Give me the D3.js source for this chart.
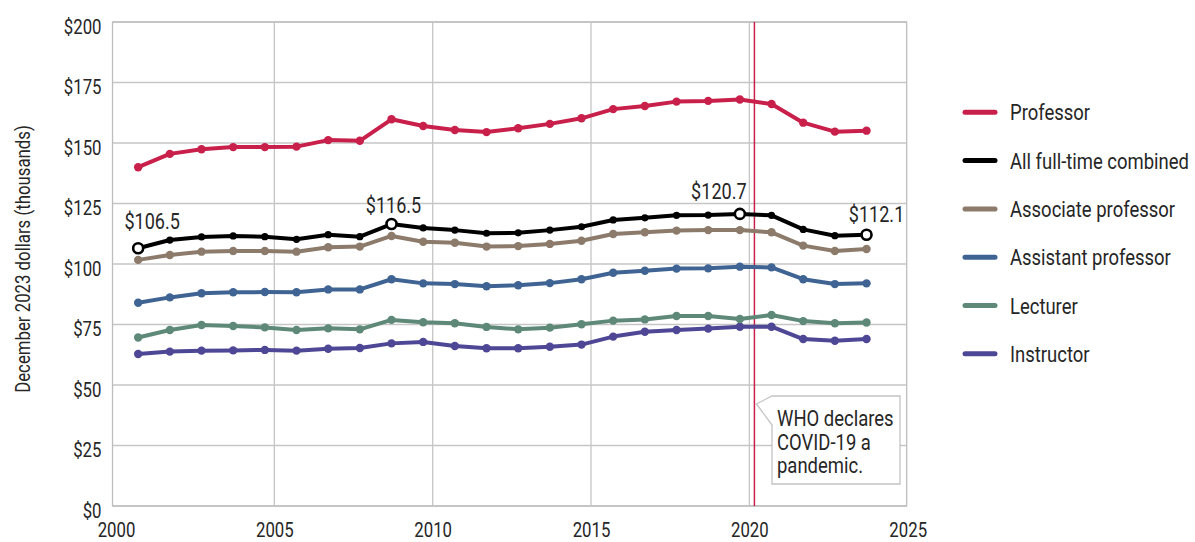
<!DOCTYPE html>
<html>
<head>
<meta charset="utf-8">
<script src="https://cdn.jsdelivr.net/npm/d3@7"></script>
<style>
  html, body { margin: 0; padding: 0; background: #fff; }
  svg { display: block; }
  text { font-family: "Roboto", "Liberation Sans", sans-serif; fill: #262626; }
</style>
</head>
<body>
<svg id="chart" width="1195" height="542"></svg>
<script>
// ---- data ----
const years = [2000,2001,2002,2003,2004,2005,2006,2007,2008,2009,2010,2011,2012,2013,2014,2015,2016,2017,2018,2019,2020,2021,2022,2023];
const professor = [140.0,145.5,147.4,148.3,148.3,148.5,151.2,150.9,159.8,157.0,155.4,154.5,156.1,157.9,160.2,164.0,165.3,167.1,167.4,168.0,166.1,158.4,154.7,155.1];
const combined  = [106.5,109.9,111.2,111.6,111.3,110.2,112.1,111.3,116.5,114.9,114.0,112.7,112.9,114.0,115.4,118.2,119.1,120.1,120.2,120.7,120.1,114.3,111.7,112.1];
const associate = [101.7,103.7,105.1,105.4,105.4,105.1,106.9,107.2,111.6,109.2,108.8,107.2,107.4,108.3,109.6,112.4,113.1,113.8,114.0,114.0,113.1,107.6,105.4,106.2];
const assistant = [84.0,86.2,87.9,88.3,88.4,88.3,89.5,89.5,93.7,92.0,91.7,90.8,91.2,92.1,93.7,96.4,97.2,98.1,98.2,98.9,98.6,93.7,91.7,92.0];
const lecturer  = [69.6,72.7,74.8,74.4,73.8,72.7,73.4,73.0,76.9,75.9,75.5,74.0,73.0,73.7,75.1,76.6,77.1,78.5,78.5,77.3,78.9,76.4,75.5,75.8];
const instructor= [62.8,63.8,64.2,64.3,64.5,64.2,65.0,65.3,67.2,67.8,66.1,65.2,65.2,65.8,66.7,70.0,72.0,72.7,73.3,74.1,74.1,69.0,68.3,69.0];
const seriesNames = ["Professor","All full-time combined","Associate professor","Assistant professor","Lecturer","Instructor"];
const seriesColors = ["#C8204B","#000000","#8C7B6B","#3F6493","#5E8978","#4E4795"];
const yTicks = [0,25,50,75,100,125,150,175,200];
const xTicks = [2000,2005,2010,2015,2020,2025];
const labeledIdx = [0,8,19,23];
const covidDate = 2020.16;
const covidText = ["WHO declares","COVID-19 a","pandemic."];

// ---- layout ----
const FS = 20, SX = 0.84;
const svg = d3.select("#chart");
const x = d3.scaleLinear().domain([2000, 2025]).range([116, 907.7]);
const y = d3.scaleLinear().domain([0, 200]).range([506, 22]);
const frame = {x0: 112.5, x1: 906.7, y0: 22, y1: 506};
const xOff = 0.7;

function ctext(parent, tx, ty, str, anchor, fs) {
  return parent.append("text")
    .attr("transform", `translate(${tx},${ty}) scale(${SX},1)`)
    .attr("text-anchor", anchor || "start")
    .attr("font-size", fs || FS).text(str);
}

// gridlines
const g = svg.append("g");
g.selectAll("line.h").data(yTicks).join("line")
  .attr("x1", frame.x0).attr("x2", frame.x1)
  .attr("y1", d => y(d)).attr("y2", d => y(d))
  .attr("stroke", "#c6c6c6").attr("stroke-width", 1.3);
g.selectAll("line.v").data(xTicks.slice(1, -1)).join("line")
  .attr("x1", d => x(d)).attr("x2", d => x(d))
  .attr("y1", frame.y0).attr("y2", frame.y1)
  .attr("stroke", "#c6c6c6").attr("stroke-width", 1.3);
g.append("rect").attr("x", frame.x0).attr("y", frame.y0)
  .attr("width", frame.x1 - frame.x0).attr("height", frame.y1 - frame.y0)
  .attr("fill", "none").attr("stroke", "#bdbdbd").attr("stroke-width", 1.3);

// axis labels via d3 axes
const yAxis = svg.append("g").attr("transform", `translate(${frame.x0 - 11},0)`)
  .call(d3.axisLeft(y).tickValues(yTicks).tickFormat(d => "$" + d).tickSize(0).tickPadding(0));
yAxis.select(".domain").remove();
yAxis.selectAll("text").attr("x", 0).attr("dy", null).attr("y", 11)
  .attr("transform", `scale(${SX},1)`)
  .attr("font-size", FS).style("font-family", '"Roboto", sans-serif').attr("fill", "#262626");

const xAxis = svg.append("g").attr("transform", `translate(0,${frame.y1})`)
  .call(d3.axisBottom(x).tickValues(xTicks).tickFormat(d3.format("d")).tickSize(0).tickPadding(0));
xAxis.select(".domain").remove();
xAxis.selectAll("text").attr("y", 31).attr("dy", null)
  .attr("transform", `scale(${SX},1)`)
  .attr("font-size", FS).style("font-family", '"Roboto", sans-serif').attr("fill", "#262626");

svg.append("text").attr("transform", `translate(30,259) rotate(-90) scale(${SX},1)`)
  .attr("text-anchor", "middle").attr("font-size", FS).text("December 2023 dollars (thousands)");

// covid line
svg.append("line").attr("x1", x(covidDate)).attr("x2", x(covidDate))
  .attr("y1", frame.y0).attr("y2", frame.y1)
  .attr("stroke", "#C8204B").attr("stroke-width", 1.5);

// series
const allSeries = [professor, combined, associate, assistant, lecturer, instructor];
const line = d3.line().x((d, i) => x(years[i] + xOff)).y(d => y(d));
const drawOrder = [5, 4, 3, 2, 0, 1];
drawOrder.forEach(si => {
  const vals = allSeries[si];
  const sg = svg.append("g");
  sg.append("path").datum(vals).attr("d", line)
    .attr("fill", "none").attr("stroke", seriesColors[si]).attr("stroke-width", 4)
    .attr("stroke-linejoin", "round").attr("stroke-linecap", "round");
  sg.selectAll("circle").data(vals).join("circle")
    .attr("cx", (d, i) => x(years[i] + xOff)).attr("cy", d => y(d))
    .attr("r", si === 1 ? 3.6 : 4.2).attr("fill", seriesColors[si]);
});

// labeled points on combined
const lblOffsets = {0: [14, -19], 8: [2, -11], 19: [-21, -15], 23: [10, -13]};
labeledIdx.forEach(i => {
  const cx = x(years[i] + xOff), cy = y(combined[i]);
  svg.append("circle").attr("cx", cx).attr("cy", cy).attr("r", 5)
    .attr("fill", "#fff").attr("stroke", "#000").attr("stroke-width", 2.6);
  ctext(svg, cx + lblOffsets[i][0], cy + lblOffsets[i][1], "$" + combined[i].toFixed(1), "middle", 21.5);
});

// annotation callout
const cx0 = x(covidDate) + 2;
const bx0 = 772, bx1 = 900, by0 = 396, by1 = 484;
svg.append("path")
  .attr("d", `M${cx0},404 L${bx0},${by0} L${bx1},${by0} L${bx1},${by1} L${bx0},${by1} L${bx0},425 Z`)
  .attr("fill", "#fff").attr("stroke", "#c4c4c4").attr("stroke-width", 1.3);
const ag = svg.append("g");
covidText.forEach((t, i) => ctext(ag, 777, 426 + i * 23.5, t, "start", 22));

// legend
const lg = svg.append("g");
seriesNames.forEach((name, i) => {
  const ly = 112.3 + i * 48.3;
  lg.append("line").attr("x1", 965).attr("x2", 995).attr("y1", ly).attr("y2", ly)
    .attr("stroke", seriesColors[i]).attr("stroke-width", 5).attr("stroke-linecap", "round");
  ctext(lg, 1010, ly + 8, name, "start", 22);
});
</script>
</body>
</html>
